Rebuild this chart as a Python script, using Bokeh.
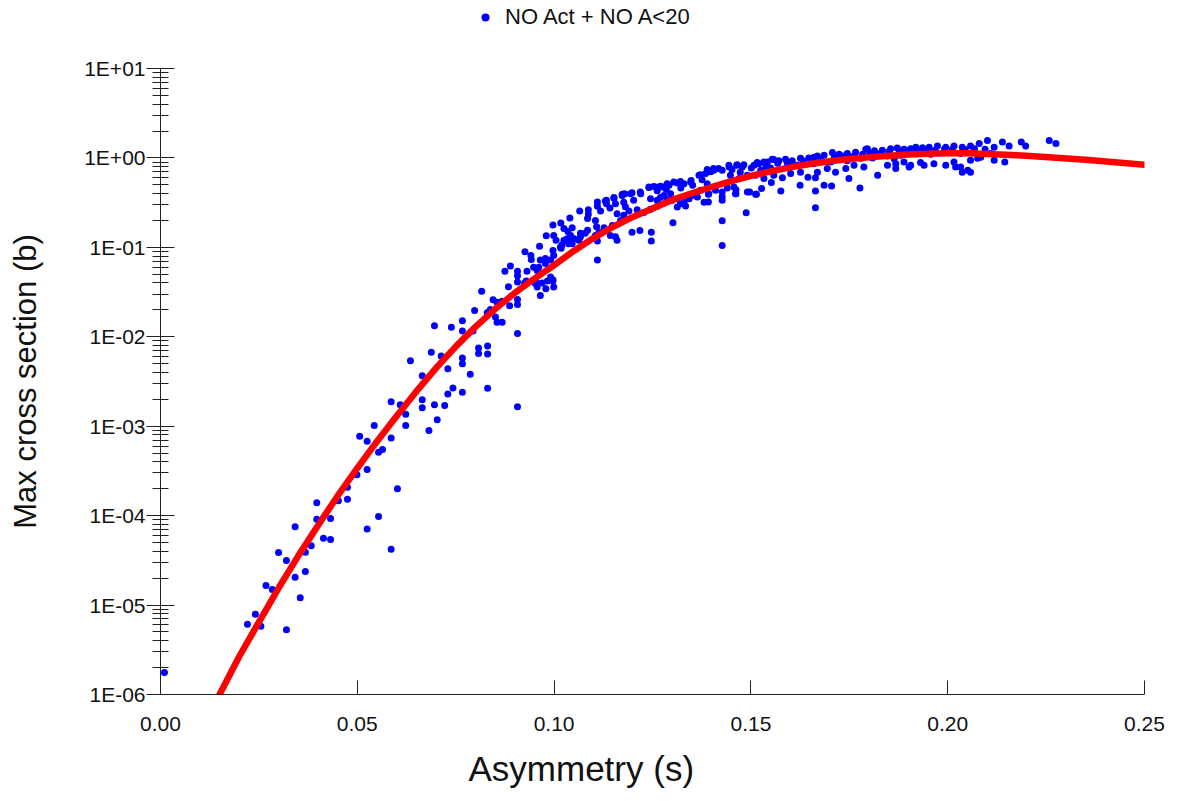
from bokeh.plotting import figure
from bokeh.layouts import column
from bokeh.models import (FixedTicker, CustomJSTickFormatter, NumeralTickFormatter,
                          Legend, LegendItem, Title, Range1d)
from bokeh.embed import file_html
from bokeh.resources import INLINE

# ---- scatter data: NO Act + NO A<20 ----
asym = [
    0.001, 0.0221, 0.0241, 0.0255, 0.032, 0.0268, 0.0284, 0.0355, 0.0342, 0.0368,
    0.032, 0.030, 0.0368, 0.0383, 0.0342, 0.0397, 0.0414, 0.0432, 0.0432, 0.0397,
    0.0452, 0.0475, 0.0475, 0.0499, 0.0525, 0.0554, 0.0525, 0.0586, 0.0602, 0.0506,
    0.0525, 0.0554, 0.0564, 0.0586,
    0.0816, 0.0884, 0.0907, 0.0925, 0.0955, 0.0997, 0.0979, 0.0965, 0.0845, 0.0855,
    0.0868, 0.0887, 0.0907, 0.0907, 0.083, 0.0838, 0.0798, 0.0855, 0.0868, 0.0907,
    0.0907, 0.0696, 0.0739, 0.0767, 0.0767, 0.0794, 0.0688, 0.0713, 0.0730, 0.0767,
    0.0767, 0.0808, 0.0808, 0.0831, 0.0831, 0.0787, 0.0831, 0.0767, 0.0743, 0.073,
    0.0722, 0.0635, 0.0665, 0.0665, 0.0665, 0.0696, 0.0703, 0.0682, 0.0586, 0.0609,
    0.0623, 0.0623, 0.0543,
    0.0875, 0.0889, 0.0926, 0.0941, 0.0942, 0.0907, 0.0907, 0.0929, 0.0931, 0.0948,
    0.0957, 0.0963, 0.098, 0.0997, 0.1017, 0.104, 0.1065, 0.1087, 0.1087, 0.111,
    0.111, 0.113, 0.1152, 0.1173, 0.1179, 0.1198, 0.1219, 0.1241, 0.1253, 0.127,
    0.1287, 0.1304, 0.1321, 0.1348, 0.1372, 0.1389, 0.1406, 0.1444, 0.1465, 0.1482,
    0.152, 0.1542, 0.1558, 0.1592, 0.1626, 0.166, 0.1707, 0.1745, 0.1796,
    0.0997, 0.1018, 0.0997, 0.111, 0.116, 0.1198, 0.1218, 0.1247, 0.1247, 0.1302,
    0.1427, 0.1427, 0.1488, 0.1664, 0.1664, 0.1777, 0.1576, 0.1552, 0.1625, 0.1686,
    0.1705, 0.1527, 0.1514, 0.1497, 0.1462, 0.1462, 0.1427, 0.1427, 0.1427, 0.144,
    0.1392, 0.1392, 0.1364, 0.1334, 0.1321, 0.1313, 0.13, 0.1287, 0.127, 0.1262,
    0.1245, 0.1228, 0.1211, 0.119, 0.1177, 0.1169, 0.116, 0.1148, 0.1143, 0.1156,
    0.1127, 0.1114, 0.1105, 0.1108, 0.1105, 0.111, 0.1085, 0.1067, 0.1063, 0.1051,
    0.1042, 0.1046, 0.1033, 0.1037, 0.102, 0.1016, 0.0999, 0.0991, 0.0978, 0.0965,
    0.0961, 0.0991, 0.0983, 0.0999, 0.097, 0.0952, 0.0957, 0.0834, 0.0851,
    0.1445, 0.1464, 0.1501, 0.1516, 0.1533, 0.1554, 0.1571, 0.1588, 0.1605, 0.1647,
    0.1669, 0.1686, 0.1724, 0.1766, 0.1792, 0.1814, 0.1834, 0.1855, 0.1872,
    0.1427, 0.1448, 0.147, 0.1491, 0.1512, 0.1533, 0.1558, 0.158, 0.1601, 0.1626,
    0.1645, 0.1669, 0.1694, 0.1715, 0.1741, 0.1762, 0.1787, 0.1822, 0.1847, 0.1868,
    0.1457, 0.1461, 0.1491, 0.1512, 0.1664, 0.1749,
    0.1889, 0.1906, 0.1919, 0.1936, 0.1953, 0.1974, 0.1995, 0.2016, 0.2037, 0.2058,
    0.208, 0.2101, 0.2118, 0.2139, 0.2156, 0.2187, 0.2198, 0.2258, 0.2275,
    0.1864, 0.1868, 0.1889, 0.1906, 0.1931, 0.1965, 0.1995, 0.2016, 0.202, 0.2037,
    0.2058, 0.2058, 0.2084, 0.2118, 0.2145,
    0.1133, 0.1133, 0.1152, 0.1156, 0.1173, 0.1177, 0.1181, 0.1194, 0.1202, 0.122,
    0.1241, 0.1258, 0.1275, 0.1292, 0.1313, 0.133, 0.1347, 0.1368, 0.1385, 0.1405,
    0.1245, 0.1262, 0.1279, 0.1296, 0.1313, 0.133, 0.1343, 0.1355, 0.1372, 0.1389,
    0.1381, 0.1393, 0.141, 0.1025, 0.1025, 0.1046, 0.0999, 0.0978, 0.1046, 0.1067,
    0.1079,
    0.1473, 0.1525, 0.155, 0.1592, 0.1618, 0.166, 0.1703, 0.1745, 0.1779, 0.1809,
    0.1847, 0.188, 0.1957, 0.2033, 0.2076, 0.2109, 0.1902, 0.194, 0.2033, 0.2051,
    0.1398, 0.1418, 0.1452, 0.1478, 0.1508, 0.1538, 0.1568, 0.1598, 0.1632, 0.1655,
    0.1678, 0.1712, 0.1733, 0.1755, 0.1784, 0.1802, 0.1828, 0.1851, 0.1877, 0.1898,
    0.1922, 0.1946, 0.1968, 0.1992, 0.2012, 0.2044, 0.2068, 0.2095, 0.1262, 0.1285,
    0.1322, 0.1352, 0.1376, 0.1118, 0.1142, 0.1085, 0.1035, 0.1005,
]
xsec = [
    1.76e-6, 6.1e-6, 7.9e-6, 5.8e-6, 5.3e-6, 1.66e-5, 1.49e-5, 1.21e-5, 2.05e-5, 2.38e-5,
    3.15e-5, 3.87e-5, 3.9e-5, 4.6e-5, 7.5e-5, 9.1e-5, 5.6e-5, 5.4e-5, 9.3e-5, 1.39e-4,
    1.47e-4, 1.53e-4, 2.08e-4, 2.87e-4, 3.29e-4, 9.8e-5, 7.1e-5, 4.2e-5, 2.0e-4, 7.7e-4,
    6.8e-4, 5.1e-4, 5.5e-4, 7.4e-4,
    3.22e-2, 3.63e-2, 4.09e-2, 4.0e-2, 4.09e-2, 4.2e-2, 3.45e-2, 2.9e-2, 2.6e-2, 2.43e-2,
    2.5e-2, 2.23e-2, 2.62e-2, 2.3e-2, 1.86e-2, 2.02e-2, 1.97e-2, 1.45e-2, 1.45e-2, 1.09e-2,
    1.65e-3, 1.33e-2, 1.28e-2, 1.51e-2, 1.16e-2, 1.16e-2, 6.7e-3, 6.1e-3, 4.4e-3, 5.8e-3,
    5.0e-3, 7.5e-3, 6.5e-3, 7.9e-3, 6.4e-3, 3.8e-3, 2.65e-3, 2.39e-3, 2.67e-3, 2.29e-3,
    1.71e-3, 5.4e-3, 3.67e-3, 1.98e-3, 1.61e-3, 1.74e-3, 1.18e-3, 8.97e-4, 1.88e-3, 1.74e-3,
    1.36e-3, 1.02e-3, 1.02e-3,
    5.4e-2, 6.2e-2, 8.95e-2, 8.1e-2, 7.3e-2, 5.4e-2, 4.8e-2, 4.2e-2, 5.4e-2, 6.0e-2,
    5.5e-2, 1.03e-1, 1.35e-1, 1.78e-1, 1.87e-1, 2.13e-1, 2.55e-1, 2.64e-1, 2.34e-1, 3.21e-1,
    2.88e-1, 3.3e-1, 3.53e-1, 3.92e-1, 3.97e-1, 4.09e-1, 4.17e-1, 4.73e-1, 4.8e-1, 4.82e-1,
    5.16e-1, 5.38e-1, 5.45e-1, 5.61e-1, 6.5e-1, 7.4e-1, 7.3e-1, 8.3e-1, 8.4e-1, 8.4e-1,
    8.6e-1, 9.0e-1, 9.6e-1, 9.0e-1, 9.9e-1, 1.02, 1.15, 1.12, 1.27,
    4.35e-2, 9.8e-2, 9.2e-2, 7.2e-2, 1.2e-1, 1.48e-1, 1.54e-1, 1.48e-1, 1.18e-1, 1.89e-1,
    1.99e-1, 1.05e-1, 2.44e-1, 2.78e-1, 4.27e-1, 4.61e-1, 4.27e-1, 5.3e-1, 4.94e-1, 4.94e-1,
    4.85e-1, 4.54e-1, 3.92e-1, 4.16e-1, 3.97e-1, 4.4e-1, 4.16e-1, 3.67e-1, 3.37e-1, 4.6e-1,
    3.92e-1, 3.21e-1, 3.66e-1, 2.9e-1, 3.08e-1, 2.82e-1, 3.36e-1, 3.4e-1, 3.6e-1, 2.88e-1,
    2.67e-1, 2.45e-1, 2.64e-1, 2.55e-1, 2.28e-1, 2.0e-1, 2.38e-1, 1.76e-1, 1.36e-1, 1.31e-1,
    1.66e-1, 1.48e-1, 2.0e-1, 1.7e-1, 1.36e-1, 1.18e-1, 1.55e-1, 1.44e-1, 1.2e-1, 1.25e-1,
    1.36e-1, 1.66e-1, 1.25e-1, 1.1e-1, 1.06e-1, 1.0e-1, 8.1e-2, 7.2e-2, 6.6e-2, 7.2e-2,
    6.0e-2, 4.65e-2, 4.2e-2, 3.6e-2, 4.0e-2, 3.96e-2, 3.6e-2, 1.89e-2, 1.66e-2,
    7.9e-1, 8.3e-1, 7.7e-1, 8.9e-1, 9.0e-1, 9.65e-1, 9.3e-1, 9.65e-1, 9.3e-1, 1.0,
    1.05, 1.07, 1.1, 1.16, 1.25, 1.2, 1.22, 1.27, 1.29,
    7.3e-1, 6.4e-1, 5.9e-1, 6.4e-1, 6.4e-1, 5.9e-1, 6.4e-1, 6.0e-1, 6.7e-1, 6.9e-1,
    6.1e-1, 6.9e-1, 7.6e-1, 6.9e-1, 7.6e-1, 8.3e-1, 7.9e-1, 6.4e-1, 8.3e-1, 8.6e-1,
    4.73e-1, 3.97e-1, 4.16e-1, 3.92e-1, 6.0e-1, 5.9e-1,
    1.25, 1.27, 1.32, 1.3, 1.32, 1.36, 1.32, 1.36, 1.32, 1.36,
    1.45, 1.57, 1.32, 1.51, 1.36, 1.51, 1.36, 1.57, 1.45,
    9.8e-1, 7.6e-1, 9.0e-1, 8.3e-1, 8.9e-1, 8.6e-1, 8.3e-1, 9.0e-1, 7.9e-1, 6.9e-1,
    6.9e-1, 9.4e-1, 1.02, 9.4e-1, 9.0e-1,
    3.36e-1, 3.08e-1, 3.6e-1, 3.08e-1, 3.8e-1, 3.2e-1, 2.84e-1, 3.97e-1, 3.36e-1, 3.97e-1,
    4.66e-1, 4.73e-1, 4.73e-1, 4.94e-1, 5.24e-1, 5.16e-1, 5.38e-1, 6.4e-1, 6.7e-1, 7.6e-1,
    3.5e-1, 3.36e-1, 3.8e-1, 3.97e-1, 3.5e-1, 3.2e-1, 3.5e-1, 3.8e-1, 4.34e-1, 5.16e-1,
    3.2e-1, 3.97e-1, 4.34e-1, 1.62e-1, 1.2e-1, 1.2e-1, 1.36e-1, 7.5e-2, 1.1e-1, 1.31e-1,
    1.44e-1,
    6.9e-1, 7.3e-1, 7.7e-1, 7.9e-1, 8.3e-1, 8.6e-1, 9.0e-1, 9.3e-1, 9.9e-1, 1.0,
    1.05, 1.07, 1.1, 1.12, 9.9e-1, 1.12, 7.9e-1, 8.3e-1, 7.9e-1, 7.3e-1,
    7.0e-1, 7.6e-1, 7.4e-1, 7.9e-1, 8.3e-1, 8.0e-1, 8.7e-1, 8.6e-1, 9.3e-1, 9.6e-1,
    9.5e-1, 1.02, 1.05, 1.03, 1.10, 1.13, 1.12, 1.18, 1.16, 1.20,
    1.21, 1.24, 1.22, 1.26, 1.25, 1.24, 1.27, 1.25, 4.3e-1, 4.45e-1,
    4.6e-1, 4.95e-1, 5.7e-1, 2.55e-1, 2.75e-1, 2.1e-1, 1.5e-1, 1.2e-1,
]

# ---- fitted curve ----
fit_asym = [0.015, 0.02, 0.025, 0.03, 0.035, 0.04, 0.045, 0.05, 0.055, 0.06,
            0.065, 0.07, 0.075, 0.08, 0.085, 0.09, 0.095, 0.10, 0.105, 0.11,
            0.115, 0.12, 0.125, 0.13, 0.135, 0.14, 0.145, 0.15, 0.155, 0.16,
            0.165, 0.17, 0.175, 0.18, 0.185, 0.19, 0.195, 0.20, 0.205, 0.21,
            0.22, 0.235, 0.25]
fit_xsec = [1.0e-6, 2.66e-6, 6.46e-6, 1.55e-5, 3.55e-5, 7.76e-5, 1.66e-4, 3.39e-4, 6.76e-4, 1.30e-3,
            2.45e-3, 4.47e-3, 7.76e-3, 1.29e-2, 2.04e-2, 3.09e-2, 4.47e-2, 6.31e-2, 9.12e-2, 1.27e-1,
            1.70e-1, 2.19e-1, 2.72e-1, 3.39e-1, 4.03e-1, 4.73e-1, 5.5e-1, 6.3e-1, 7.08e-1, 7.85e-1,
            8.55e-1, 9.18e-1, 9.72e-1, 1.019, 1.057, 1.089, 1.112, 1.125, 1.125, 1.109,
            1.059, 9.55e-1, 8.39e-1]

x_ticks = [0.0, 0.05, 0.10, 0.15, 0.20, 0.25]
y_decades = [1e-6, 1e-5, 1e-4, 1e-3, 1e-2, 1e-1, 1e0, 1e1]
series_label = "NO Act + NO A<20"

FONT = "Liberation Sans"
BLUE = "#0000FF"
RED = "#FF0000"
INK = "#111111"

# ---- top strip holding the legend ----
top = figure(width=1175, height=40, x_range=Range1d(0, 1), y_range=Range1d(0, 1),
             output_backend="svg", toolbar_location=None,
             x_axis_location=None, y_axis_location=None,
             min_border=0)
top.outline_line_color = None
top.grid.visible = False
# key renderer: one marker kept outside the visible range, only used for the legend swatch
key = top.scatter(x=[-5], y=[-5], size=7, fill_color=BLUE, line_color=BLUE, line_width=0)
legend = Legend(items=[LegendItem(label=series_label, renderers=[key])],
                orientation="horizontal", location=(315, 10),
                border_line_color=None, background_fill_alpha=0,
                label_text_font=FONT, label_text_font_size="22px", label_text_color=INK,
                glyph_width=20, glyph_height=20, label_height=20,
                label_standoff=10, padding=0, margin=0)
top.add_layout(legend)

# ---- main chart ----
p = figure(width=1175, height=761, y_axis_type="log",
           x_range=Range1d(0, 0.25), y_range=Range1d(1e-6, 10),
           output_backend="svg", toolbar_location=None,
           min_border_left=160, min_border_right=31, min_border_top=28, min_border_bottom=107)
p.outline_line_color = None
p.grid.visible = False

p.scatter(asym, xsec, size=7, fill_color=BLUE, line_color=BLUE, line_width=0)
p.line(fit_asym, fit_xsec, line_color=RED, line_width=6.5, line_join="round", line_cap="round")

# x axis
xa = p.xaxis[0]
xa.ticker = FixedTicker(ticks=x_ticks, minor_ticks=[])
xa.formatter = NumeralTickFormatter(format="0.00")
xa.major_tick_in = 14
xa.major_tick_out = 0
xa.minor_tick_in = 0
xa.minor_tick_out = 0
xa.major_label_standoff = 22
xa.major_label_text_font = FONT
xa.major_label_text_font_size = "21px"
xa.major_label_text_color = INK
xa.axis_line_color = "#222222"
xa.major_tick_line_color = "#222222"

# y axis
minor = [k * d for d in y_decades[:-1] for k in range(2, 10)]
ya = p.yaxis[0]
ya.ticker = FixedTicker(ticks=y_decades, minor_ticks=minor)
ya.formatter = CustomJSTickFormatter(code="""
const e = Math.round(Math.log10(tick));
const a = Math.abs(e);
return '1E' + (e < 0 ? '-' : '+') + (a < 10 ? '0' : '') + a;
""")
ya.major_tick_in = 14
ya.major_tick_out = 14
ya.minor_tick_in = 8
ya.minor_tick_out = 8
ya.major_label_standoff = 1
ya.major_label_text_font = FONT
ya.major_label_text_font_size = "21px"
ya.major_label_text_color = INK
ya.axis_line_color = "#222222"
ya.major_tick_line_color = "#222222"
ya.minor_tick_line_color = "#222222"
ya.axis_label = "Max cross section (b)"
ya.axis_label_text_font = FONT
ya.axis_label_text_font_size = "31px"
ya.axis_label_text_font_style = "normal"
ya.axis_label_text_color = INK
ya.axis_label_standoff = 38

# x axis title, offset to sit where the original has it
p.add_layout(Title(text="Asymmetry (s)", align="left", offset=308, standoff=26,
                   text_font=FONT, text_font_size="35px", text_font_style="normal",
                   text_color=INK), "below")

layout = column(top, p, spacing=0)
open("out.html", "w").write(file_html(layout, INLINE))
